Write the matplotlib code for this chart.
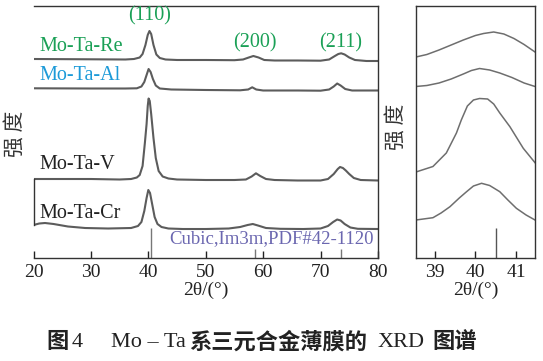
import matplotlib
matplotlib.use("Agg")
import matplotlib.pyplot as plt

SERIF = ["Liberation Serif", "Noto Sans CJK SC"]
CJK = ["Noto Sans CJK SC", "DejaVu Sans"]

# intensity in arbitrary units (stacked traces, offsets included)
re_x = [20, 30, 36, 37.5, 38.5, 39.0, 39.5, 39.9, 40.2, 40.5, 40.9, 41.4, 42, 43, 45, 50,
        55, 56.5, 57.5, 58.3, 59.2, 60.2, 62, 66, 70, 71.5, 72.5, 73.1, 73.6, 74.2, 75, 76, 78, 80]
re_y = [199, 198.7, 198.5, 199, 200.5, 204, 213, 223, 227, 224, 213, 203.5, 200, 198.5, 198, 198,
        197.8, 198.5, 200.5, 202, 200.5, 198, 197.5, 197.5, 197.3, 198.5, 202, 204, 204.7, 203.5,
        200.5, 198, 197, 197]

al_x = [20, 30, 36, 38, 38.8, 39.3, 39.7, 40.05, 40.4, 40.8, 41.3, 42, 44, 50, 56, 57.4, 58.1,
        58.8, 60, 66, 70, 71.5, 72.3, 72.9, 73.5, 74.3, 75.5, 80]
al_y = [169.7, 169.5, 169.5, 169.7, 171.5, 176, 183, 189, 186, 179, 172.5, 169.5, 168.5, 168,
        167.7, 168.5, 170.7, 168.5, 167.5, 167.5, 167.3, 168.5, 171.5, 174.5, 172.5, 169, 167.5, 167.5]

v_x = [20, 30, 35, 37, 38, 38.5, 39.0, 39.4, 39.7, 39.9, 40.05, 40.25, 40.5, 40.9, 41.3, 41.8,
       42.5, 43.5, 45, 50, 55, 57, 58, 58.75, 59.5, 60.5, 62, 66, 70, 71.3, 72.3, 73.0, 73.4,
       73.9, 74.4, 75.0, 75.8, 77, 80]
v_y = [79, 79, 78.5, 79, 80.5, 83, 92, 115, 134, 152, 159.5, 157, 144, 120, 100, 87, 81.5, 79.5,
       78.5, 78, 78, 78.5, 81.5, 84.7, 82, 79, 78, 77.5, 77.5, 79, 84, 89, 91, 90, 87.5, 84, 80,
       78, 77.5]

cr_x = [20, 21, 22, 23.5, 26, 29, 33, 37, 38.2, 38.8, 39.3, 39.7, 40.0, 40.3, 40.7, 41.1, 41.6,
        42.3, 43.5, 46, 50, 54, 56, 57.3, 58.2, 59.1, 60.5, 63, 67, 70, 71.3, 72.2, 72.9, 73.5,
        74.2, 75.2, 76.5, 80]
cr_y = [33, 34.5, 35, 34, 31.5, 30, 29.5, 30, 32, 36, 47, 60, 68, 65, 53, 41, 34, 31, 29.5, 29,
        29, 29.5, 31, 33, 34, 32.5, 30, 29.2, 29, 29.5, 32, 36, 38.5, 37.5, 34, 30.5, 29.2, 29]

# zoomed (110) region
zre_x = [38.53, 38.8, 39.1, 39.4, 39.7, 40.0, 40.2, 40.45, 40.7, 40.95, 41.2, 41.47]
zre_y = [201, 203.5, 208, 213, 218, 222.5, 224.5, 226, 224, 219.5, 213.5, 206]
zal_x = [38.53, 38.8, 39.1, 39.4, 39.7, 39.9, 40.1, 40.35, 40.6, 40.9, 41.2, 41.47]
zal_y = [171.5, 172.5, 175, 179, 184, 187.5, 189.5, 188, 185, 180.5, 175, 171.5]
zv_x = [38.53, 38.95, 39.28, 39.53, 39.65, 39.8, 39.95, 40.1, 40.3, 40.45, 40.6, 40.85, 41.18, 41.47]
zv_y = [86, 91.5, 105, 125, 138, 152, 158, 159.5, 159, 154, 145, 131.3, 109.7, 95.3]
zcr_x = [38.53, 38.95, 39.15, 39.37, 39.6, 39.78, 39.95, 40.15, 40.35, 40.6, 40.8, 41.01, 41.25, 41.47]
zcr_y = [38, 40.3, 45, 51.3, 60, 66.3, 72, 74.7, 72.5, 66.3, 58, 49.7, 43, 38]

# PDF#42-1120 reference sticks
ref_pos = [40.5, 58.6, 73.6]
ref_int = [30, 9, 9]

labels = ["Mo-Ta-Re", "Mo-Ta-Al", "Mo-Ta-V", "Mo-Ta-Cr"]
label_y = [211, 182, 94, 45]
label_colors = ["#1aa056", "#1c9ad8", "#222222", "#222222"]
hkl = ["(110)", "(200)", "(211)"]
hkl_pos = [(40.2, 242), (58.5, 215), (73.5, 215)]

# caption pieces: (text, left x in figure fraction, bold CJK?)
caption = [("图", 0.086, True), ("4", 0.1326, False), ("Mo – Ta", 0.205, False),
           ("系三元合金薄膜的", 0.348, True), ("XRD", 0.695, False), ("图谱", 0.797, True)]

fig = plt.figure(figsize=(5.43, 3.61), dpi=100)
ax = fig.add_axes([0.0617, 0.2853, 0.6343, 0.6981])
ax2 = fig.add_axes([0.766, 0.2853, 0.2193, 0.6981])

line_kw = dict(color="#5c5c5c", lw=1.5, solid_joinstyle="round")
for xs, ys in [(re_x, re_y), (al_x, al_y), (v_x, v_y), (cr_x, cr_y)]:
    ax.plot(xs, ys, **line_kw)
for xs, ys in [(zre_x, zre_y), (zal_x, zal_y), (zv_x, zv_y), (zcr_x, zcr_y)]:
    ax2.plot(xs, ys, color="#6e6e6e", lw=1.1)

ax.vlines(ref_pos, 0, ref_int, color="#777777", lw=1.0)
ax2.vlines(ref_pos[0], 0, ref_int[0], color="#555555", lw=1.0)

for txt, yy, c in zip(labels, label_y, label_colors):
    ax.text(21.1, yy, txt, color=c, family=SERIF, fontsize=14.5, va="center", ha="left")
for txt, (xx, yy) in zip(hkl, hkl_pos):
    ax.text(xx, yy, txt, color="#1aa056", family=SERIF, fontsize=14.5, va="center", ha="center")
ax.text(79.2, 19, "Cubic,Im3m,PDF#42-1120", color="#6b67b0", family=SERIF,
        fontsize=13.5, va="center", ha="right")

ax.set_xlim(20, 80)
ax.set_ylim(0, 252)
ax.set_xticks(range(20, 81, 10))
ax2.set_xlim(38.53, 41.47)
ax2.set_ylim(0, 252)
ax2.set_xticks([39, 40, 41])

for a in (ax, ax2):
    a.set_yticks([])
    a.tick_params(axis="x", direction="in", length=5, width=1, labelsize=14, pad=4,
                  colors="#222222")
    for lab in a.get_xticklabels():
        lab.set_family(SERIF)
    a.set_xlabel("2θ/(°)", family=SERIF, fontsize=14, labelpad=1, color="#222222")
    for s in a.spines.values():
        s.set_linewidth(1.0)
        s.set_color("#333333")

# left panel frame: left spine only runs between the two lower traces
ax.spines["left"].set_bounds(cr_y[0], v_y[0])

fig.text(0.027, 0.63, "强 度", rotation=90, family=CJK, fontsize=15,
         ha="center", va="center", color="#333333")
fig.text(0.728, 0.648, "强 度", rotation=90, family=CJK, fontsize=15,
         ha="center", va="center", color="#333333")

for txt, xx, bold in caption:
    fig.text(xx, 0.05, txt, family=SERIF, fontsize=16, ha="left", va="center",
             color="#222222", fontweight="bold" if bold else "normal")

fig.savefig("out.png", dpi=100)
